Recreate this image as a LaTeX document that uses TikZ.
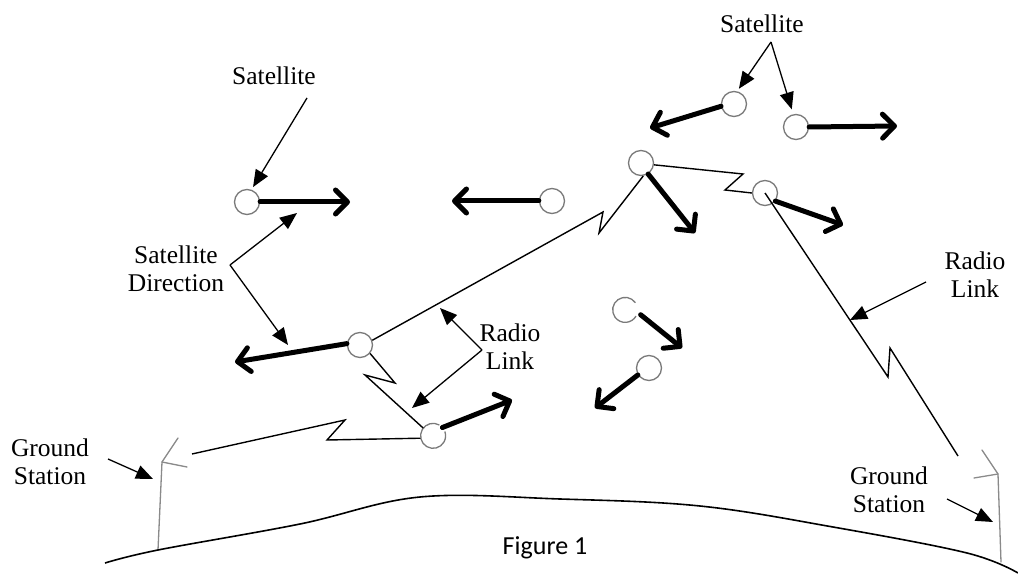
\documentclass[tikz,border=0pt]{standalone}
\usepackage{fontspec}
\setmainfont{Liberation Serif}
\newfontfamily\figfont{Carlito}
\usetikzlibrary{arrows.meta}
\definecolor{satgray}{HTML}{7A7A7A}
\definecolor{stgray}{HTML}{8A8A8A}
\begin{document}
\begin{tikzpicture}[x=1pt,y=-1pt,
  sat/.style={circle,draw=satgray,line width=1.3pt,minimum size=25pt,inner sep=0pt},
  opensat/.style={circle,draw=none,minimum size=25pt,inner sep=0pt},
  move/.style={line width=5pt,line cap=round,line join=round,
    -{Straight Barb[length=12pt,width=24pt,line cap=round,line join=round]}},
  link/.style={line width=1.4pt,line join=miter},
  note/.style={line width=1.3pt,-{Triangle[length=17pt,width=14pt]}},
  lbl/.style={font=\fontsize{25.5}{28}\selectfont,align=center,inner sep=0pt},
  station/.style={draw=stgray,line width=1.3pt,line cap=round}]
\useasboundingbox[fill=white] (0,0) rectangle (1018,575);

% satellites
\node[sat] (s1) at (247,202) {};
\node[sat] (s2) at (552,201) {};
\node[sat] (s3) at (734,104) {};
\node[sat] (s4) at (796,127) {};
\node[sat] (s5) at (641,163) {};
\node[sat] (s6) at (765,193) {};
\node[sat] (s7) at (360,345) {};
\node[opensat] (s8) at (433,436) {};
\node[opensat] (s9) at (625,310) {};
\node[sat] (s10) at (649,368) {};
\draw[satgray,line width=1.3pt] (s8.60) arc[start angle=60,end angle=380,radius=12.5pt];
\draw[satgray,line width=1.3pt] (s9.35) arc[start angle=35,end angle=330,radius=12.5pt];

% direction tips
\coordinate (a1) at (350,202);
\coordinate (a2) at (452,201);
\coordinate (a3) at (650,128);
\coordinate (a4) at (897,126);
\coordinate (a5) at (695,233);
\coordinate (a6) at (843,225);
\coordinate (a7) at (235,362);
\coordinate (a8) at (512,400);
\coordinate (a9) at (682,348);
\coordinate (a10) at (595,408);

\draw[move] (s1.east) -- (a1);
\draw[move] (s2.west) -- (a2);
\draw[move] (s3.190) -- (a3);
\draw[move] (s4.east) -- (a4);
\draw[move] (s5.-57) -- (a5);
\draw[move] (s6.-38) -- (a6);
\draw[move] (s7.174) -- (a7);
\draw[move] (s8.42) -- (a8);
\draw[move,shorten <=4pt] (s9.-10) -- (a9);
\draw[move] (s10.212) -- (a10);

% radio links
\coordinate (za1) at (603,212);
\coordinate (za2) at (599,233);
\coordinate (zb1) at (743,174);
\coordinate (zb2) at (725,190);
\coordinate (zc1) at (888,377);
\coordinate (zc2) at (890,348);
\coordinate (zc3) at (958,456);
\coordinate (zd1) at (395,383);
\coordinate (zd2) at (365,375);
\coordinate (ze1) at (327,440);
\coordinate (ze2) at (345,420);
\coordinate (ze3) at (192,454);

\draw[link] (s7.21) -- (za1) -- (za2) -- (s5.-80);
\draw[link] (s5.-8) -- (zb1) -- (zb2) -- (s6.west);
\draw[link] (s6.center) -- (zc1) -- (zc2) -- (zc3);
\draw[link] (s7.-40) -- (zd1) -- (zd2) -- (s8.141);
\draw[link] (s8.190) -- (ze1) -- (ze2) -- (ze3);

% ground stations
\coordinate (gl) at (162,462);
\coordinate (glb) at (158,550);
\coordinate (gla) at (178,438);
\coordinate (glc) at (187,467);
\coordinate (gr) at (998,474);
\coordinate (grb) at (1001,562);
\coordinate (gra) at (982,450);
\coordinate (grc) at (974,478);
\draw[station] (glb) -- (gl) -- (gla);
\draw[station] (gl) -- (glc);
\draw[station] (grb) -- (gr) -- (gra);
\draw[station] (gr) -- (grc);

% earth
\draw[line width=1.6pt] plot[smooth,tension=0.6] coordinates {
  (105,563) (158,550) (300,524) (420,497) (560,499) (700,506) (833,527) (967,553) (1018,573)};

% labels
\node[lbl] (lsat1) at (274,76) {Satellite};
\node[lbl] (lsat2) at (762,24) {Satellite};
\node[lbl] (ldir) at (176,269) {Satellite\\Direction};
\node[lbl] (lrad1) at (510,347) {Radio\\Link};
\node[lbl] (lrad2) at (975,275) {Radio\\Link};
\node[lbl] (lgnd1) at (50,462) {Ground\\Station};
\node[lbl] (lgnd2) at (889,490) {Ground\\Station};
\node[font=\figfont\fontsize{26}{29}\selectfont,inner sep=0pt] (fig) at (545,548) {Figure 1};

% annotation arrows
\coordinate (n1) at (307,98);
\coordinate (n2) at (771,42);
\coordinate (vd) at (230,265);
\coordinate (td1) at (297,213);
\coordinate (td2) at (288,345);
\coordinate (vr) at (482,350);
\coordinate (tr1) at (440,308);
\coordinate (tr2) at (412,408);
\coordinate (nr) at (926,282);
\coordinate (trr) at (850,320);
\coordinate (ng1) at (108,459);
\coordinate (tg1) at (153,479);
\coordinate (ng2) at (947,499);
\coordinate (tg2) at (993,522);

\draw[note,shorten >=3pt] (n1) -- (s1.70);
\draw[note,shorten >=3pt] (n2) -- (s3.76);
\draw[note,shorten >=5pt] (n2) -- (s4.102);
\draw[note] (vd) -- (td1);
\draw[note] (vd) -- (td2);
\draw[note] (vr) -- (tr1);
\draw[note] (vr) -- (tr2);
\draw[note] (nr) -- (trr);
\draw[note] (ng1) -- (tg1);
\draw[note] (ng2) -- (tg2);
\end{tikzpicture}
\end{document}
